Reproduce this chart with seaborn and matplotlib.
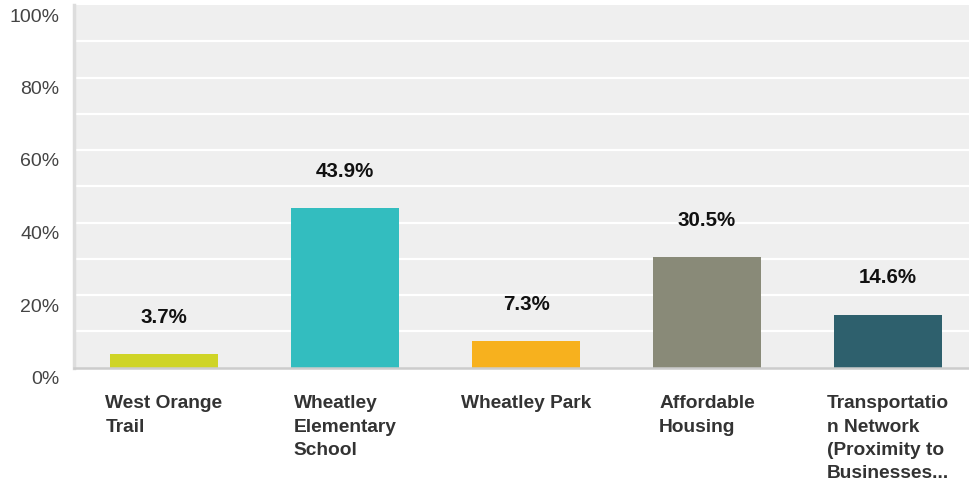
import matplotlib
matplotlib.use("Agg")
import matplotlib.pyplot as plt
import matplotlib.transforms as mtransforms
import seaborn as sns
import pandas as pd

# Survey results
categories = [
    "West Orange Trail",
    "Wheatley Elementary School",
    "Wheatley Park",
    "Affordable Housing",
    "Transportation Network (Proximity to Businesses...",
]
category_labels = [
    "West Orange\nTrail",
    "Wheatley\nElementary\nSchool",
    "Wheatley Park",
    "Affordable\nHousing",
    "Transportatio\nn Network\n(Proximity to\nBusinesses...",
]
percentages = [3.7, 43.9, 7.3, 30.5, 14.6]
bar_colors = ["#cfd426", "#33bdbf", "#f7b11e", "#898a78", "#2e606d"]
y_ticks = [0, 20, 40, 60, 80, 100]

df = pd.DataFrame({"category": categories, "pct": percentages})

sns.set_theme(style="white")
plt.rcParams["font.family"] = ["Liberation Sans", "DejaVu Sans"]

W, H = 969, 488
fig = plt.figure(figsize=(W / 100, H / 100), dpi=100)
left_px, right_px, top_px, bottom_px = 73.5, 969, 5, 367.5
slot_px = 181
ax = fig.add_axes([left_px / W, (H - bottom_px) / H,
                   (right_px - left_px) / W, (bottom_px - top_px) / H])
ax.set_facecolor("#efefef")

sns.barplot(data=df, x="category", y="pct", hue="category",
            palette=bar_colors, width=0.6, legend=False, ax=ax,
            saturation=1, linewidth=0, zorder=3)

ax.set_ylim(0, 100)
ax.set_xlim(-0.5, (right_px - left_px) / slot_px - 0.5)

# white horizontal gridlines every 10%
for g in range(10, 100, 10):
    ax.axhline(g, color="white", lw=1.6, zorder=1)

ax.set_yticks(y_ticks)
ax.set_yticklabels([f"{t}%" for t in y_ticks], fontsize=14, color="#444444")
ax.tick_params(axis="y", length=0, pad=10)
offset = mtransforms.ScaledTranslation(0, -10 / 100, fig.dpi_scale_trans)
for lbl in ax.get_yticklabels():
    lbl.set_transform(lbl.get_transform() + offset)

ax.set_xticks(range(len(categories)))
ax.set_xticklabels(category_labels, fontsize=13.8, fontweight="bold",
                   color="#333333", linespacing=1.48, multialignment="left")
ax.tick_params(axis="x", length=0, pad=20)
ax.set_xlabel("")
ax.set_ylabel("")

for i, v in enumerate(percentages):
    ax.annotate(f"{v}%", xy=(i, v), xytext=(0, 26.5), textcoords="offset points",
                ha="center", va="center", fontsize=14.8, fontweight="bold",
                color="#111111", zorder=4)

for s in ["top", "right"]:
    ax.spines[s].set_visible(False)
ax.spines["left"].set_color("#dddddd")
ax.spines["left"].set_linewidth(2.5)
ax.spines["bottom"].set_color("#cccccc")
ax.spines["bottom"].set_linewidth(1.8)
ax.spines["bottom"].set_zorder(5)

fig.savefig("out.png", dpi=100, facecolor="white")
